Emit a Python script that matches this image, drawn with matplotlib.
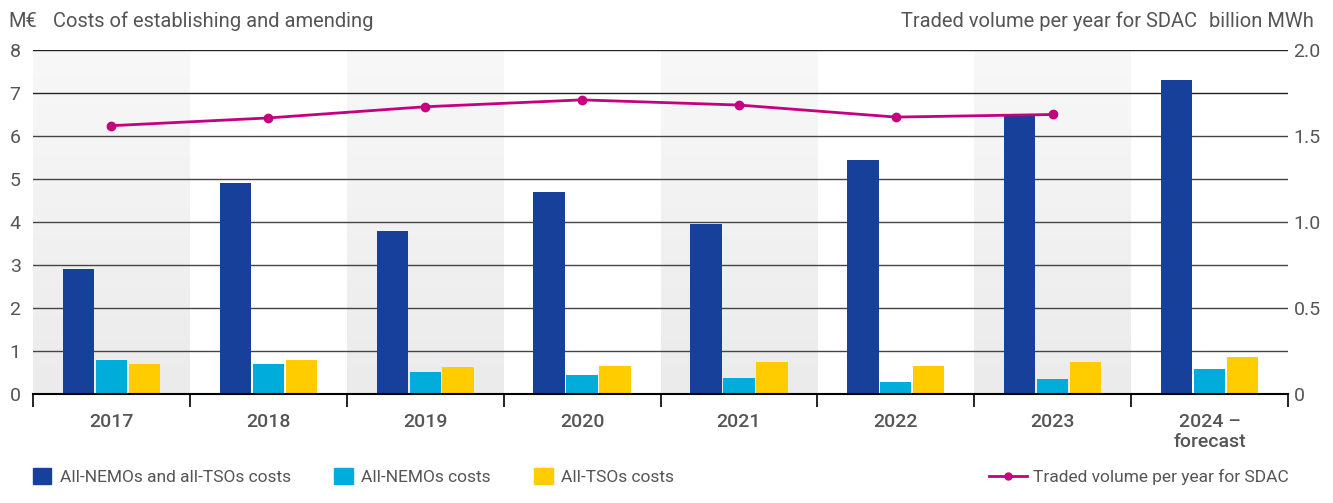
import numpy as np
import matplotlib.pyplot as plt
from matplotlib.patches import Patch
from matplotlib.lines import Line2D
from matplotlib.colors import LinearSegmentedColormap

plt.rcParams['font.family'] = ['Roboto', 'DejaVu Sans']

years = ['2017', '2018', '2019', '2020', '2021', '2022', '2023', '2024 –\nforecast']
total_costs = [2.9, 4.9, 3.8, 4.7, 3.95, 5.45, 6.5, 7.3]
nemo_costs = [0.78, 0.70, 0.50, 0.45, 0.38, 0.27, 0.35, 0.57]
tso_costs = [0.70, 0.80, 0.63, 0.66, 0.75, 0.66, 0.75, 0.87]
traded_volume = [1.56, 1.605, 1.67, 1.71, 1.68, 1.61, 1.625]

c_dark = '#17409a'
c_cyan = '#00acd9'
c_yellow = '#ffcc00'
c_line = '#c4007f'
c_text = '#555555'

fig = plt.figure(figsize=(13.33, 5.03), dpi=100)
ax = fig.add_axes([0.0248, 0.2167, 0.9414, 0.6839])
ax2 = ax.twinx()

x = np.arange(len(years))
w = 0.2
gap = 0.01

# shaded bands behind every other year
grad = np.linspace(0, 1, 100).reshape(-1, 1)
cmap = LinearSegmentedColormap.from_list('band', ['#ebebeb', '#f8f8f8'])
for i in range(0, len(years), 2):
    ax.imshow(grad, extent=(i - 0.5, i + 0.5, 0, 8), origin='lower', aspect='auto',
              cmap=cmap, zorder=0)

for yv in range(1, 9):
    ax.axhline(yv, color='#222222' if yv >= 7 else '#444444', lw=1.0, zorder=1)

ax.bar(x - w - gap, total_costs, w, color=c_dark, zorder=2)
ax.bar(x, nemo_costs, w, color=c_cyan, zorder=2)
ax.bar(x + w + gap, tso_costs, w, color=c_yellow, zorder=2)

ax2.plot(x[:len(traded_volume)], traded_volume, color=c_line, lw=2.0, marker='o',
         markersize=6, zorder=3)

ax.set_xlim(-0.5, len(years) - 0.5)
ax.set_ylim(0, 8)
ax2.set_ylim(0, 2)

ax.set_xticks(x)
ax.set_xticklabels(years, fontsize=14, color=c_text, fontweight='medium', linespacing=1.1)
ax.set_xticks(np.arange(-0.5, len(years)), minor=True)
ax.tick_params(axis='x', which='major', length=0, pad=14)
ax.tick_params(axis='x', which='minor', length=9, width=1.2, color='black')

ax.set_yticks(range(0, 9))
ax.tick_params(axis='y', length=0, pad=9, labelsize=14, labelcolor=c_text)
ax2.set_yticks([0, 0.5, 1.0, 1.5, 2.0])
ax2.set_yticklabels(['0', '0.5', '1.0', '1.5', '2.0'])
ax2.tick_params(axis='y', length=0, pad=4, labelsize=14, labelcolor=c_text)

for a in (ax, ax2):
    for s in ('top', 'left', 'right'):
        a.spines[s].set_visible(False)
ax.spines['bottom'].set_color('black')
ax.spines['bottom'].set_linewidth(1.5)
ax2.spines['bottom'].set_visible(False)
ax.set_zorder(ax2.get_zorder() - 1)
ax2.patch.set_visible(False)

fig.text(0.006, 0.958, 'M€', fontsize=14.5, color=c_text, va='center')
fig.text(0.040, 0.958, 'Costs of establishing and amending', fontsize=14.5, color=c_text, va='center')
fig.text(0.898, 0.958, 'Traded volume per year for SDAC', fontsize=14.5, color=c_text,
         va='center', ha='right')
fig.text(0.986, 0.958, 'billion MWh', fontsize=14.5, color=c_text, va='center', ha='right')

bar_handles = [Patch(color=c_dark, label='All-NEMOs and all-TSOs costs'),
               Patch(color=c_cyan, label='All-NEMOs costs'),
               Patch(color=c_yellow, label='All-TSOs costs')]
fig.legend(handles=bar_handles, loc='center left', bbox_to_anchor=(0.0248, 0.052),
           ncol=3, frameon=False, fontsize=12.5, handlelength=1.05, handleheight=1.05,
           handletextpad=0.5, columnspacing=2.5, labelcolor=c_text,
           borderpad=0, borderaxespad=0)
line_handle = [Line2D([0], [0], color=c_line, lw=2.0, marker='o', markersize=5,
                      label='Traded volume per year for SDAC')]
fig.legend(handles=line_handle, loc='center right', bbox_to_anchor=(0.967, 0.052),
           frameon=False, fontsize=12.5, handlelength=2.2, handletextpad=0.35,
           labelcolor=c_text, borderpad=0, borderaxespad=0)

fig.savefig('out.png', dpi=100)
